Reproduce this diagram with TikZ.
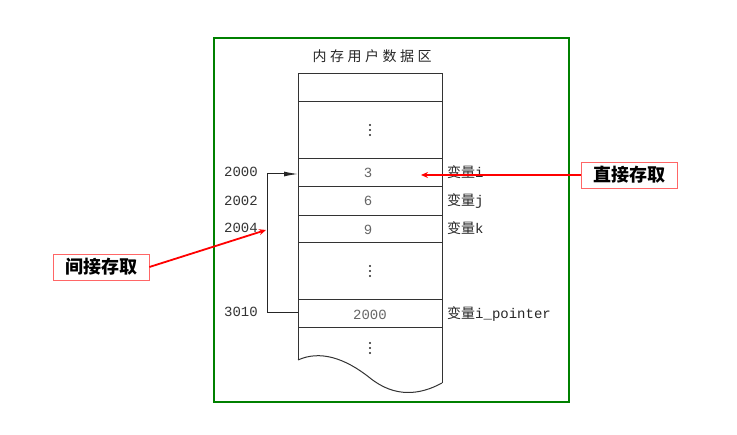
\documentclass[tikz,border=0pt]{standalone}
\usepackage{fontspec}
\usetikzlibrary{arrows.meta}
\newfontfamily\cjk{Noto Sans CJK SC}
\newfontfamily\cjktitle[LetterSpace=25]{Noto Sans CJK SC}
\newfontfamily\monof{Liberation Mono}
\tikzset{
  cell/.style={draw=black!80, line width=1pt},
  addr/.style={anchor=center, font=\monof\fontsize{14}{14}\selectfont, text=black!80},
  val/.style={anchor=center, font=\monof\fontsize{14}{14}\selectfont, text=black!60},
  var/.style={anchor=west, inner sep=0pt, font=\fontsize{14}{14}\selectfont, text=black!85},
  redlab/.style={draw=red!60, line width=0.8pt, fill=white, inner sep=0pt, minimum width=96pt, minimum height=26pt, font=\cjk\bfseries\fontsize{18}{18}\selectfont},
  redarrow/.style={draw=red, line width=1.8pt, -{Stealth[length=7pt,width=6pt]}},
  dot/.style={fill=black!85, draw=none}
}
\newcommand{\mydots}[2]{\fill[dot] (#1,#2-5) circle (1.2pt); \fill[dot] (#1,#2) circle (1.2pt); \fill[dot] (#1,#2+5) circle (1.2pt);}
\begin{document}
\begin{tikzpicture}[x=1pt,y=-1pt]
\useasboundingbox (0,0) rectangle (737,435);
% green frame
\draw[draw=green!50!black, line width=1.5pt] (214,38) rectangle (569,402);
% title
\node[font=\cjktitle\fontsize{14}{14}\selectfont, text=black!85] (title) at (372,56) {内存用户数据区};
% memory column
\draw[cell] (298,360) -- (298,74) -- (442,74) -- (442,383);
\draw[cell] (298,360) .. controls (320,350) and (345,358) .. (370,378) .. controls (395,398) and (420,395) .. (442,383);
\foreach \yy in {102,159,187,216,243,300,328} \draw[cell] (298,\yy) -- (442,\yy);
% dots
\mydots{370}{130}
\mydots{370}{271}
\mydots{370}{348}
% cell nodes
\node[val] (ci) at (368,173) {3};
\node[val] (cj) at (368,201) {6};
\node[val] (ck) at (368,230) {9};
\node[val] (cp) at (370,315) {2000};
\coordinate (cileft) at (298,174);
\coordinate (cpleft) at (298,313);
\coordinate (bend1) at (267,313);
\coordinate (bend2) at (267,174);
\coordinate (ctarget) at (421,175);
\coordinate (btarget) at (266,230);
% addresses
\node[addr] (a1) at (241,172) {2000};
\node[addr] (a2) at (241,201) {2002};
\node[addr] (a3) at (241,228) {2004};
\node[addr] (a4) at (241,312) {3010};
% variable names
\node[var] (vi) at (447,172) {{\cjk 变量}{\monof i}};
\node[var] (vj) at (447,201) {{\cjk 变量}{\monof j}};
\node[var] (vk) at (447,228) {{\cjk 变量}{\monof k}};
\node[var] (vp) at (447,314) {{\cjk 变量}{\monof i\_pointer}};
% pointer connector
\draw[line width=1pt, draw=black!85, -{Latex[length=14pt,width=5pt]}] (cpleft) -- (bend1) -- (bend2) -- (cileft);
% red labels
\node[redlab] (direct) at (629,175) {直接存取};
\node[redlab] (indirect) at (101,267) {间接存取};
\draw[redarrow] (direct.west) -- (ctarget);
\draw[redarrow] (indirect.east) -- (btarget);
\end{tikzpicture}
\end{document}
